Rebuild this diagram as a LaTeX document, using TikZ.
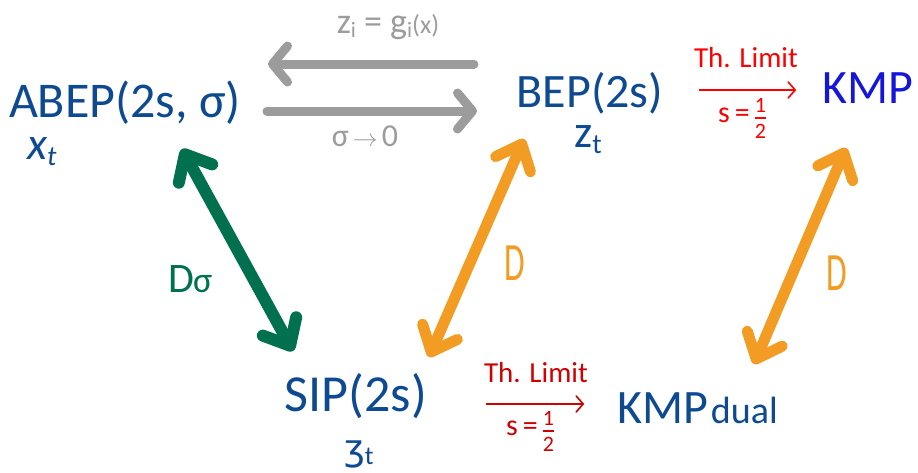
\documentclass[tikz,border=0pt]{standalone}
\usepackage{fontspec}
\setmainfont{Carlito}
\newfontfamily\dejavu{DejaVu Sans}
\usetikzlibrary{arrows.meta}
\definecolor{dblue}{HTML}{0E4A92}
\definecolor{kblue}{HTML}{1616DA}
\definecolor{agrey}{HTML}{9C9C9C}
\definecolor{agreen}{HTML}{00704F}
\definecolor{aorange}{HTML}{F39C24}
\definecolor{ared}{HTML}{FF0000}
\definecolor{dred}{HTML}{D10000}
\newcommand{\fs}[1]{\fontsize{#1}{#1}\selectfont}
\newcommand{\lowsub}[2]{\raisebox{-#1}{#2}}
\newcommand{\halffrac}{\raisebox{-16pt}{\fs{22}\shortstack{1\\[2pt]\rule{11pt}{1.6pt}\\[2pt]2}}}
\begin{document}
\begin{tikzpicture}[x=1pt,y=-1pt,
  lbl/.style={inner sep=0pt},
  proc/.style={lbl, anchor=base, text=dblue, font=\fs{50}},
  thick arrow/.style={line cap=round, line join=round,
     {Straight Barb[length=22pt,width=38pt,line cap=round,line join=round]}-{Straight Barb[length=22pt,width=38pt,line cap=round,line join=round]}},
  grey arrow/.style={agrey, line width=9pt, line cap=round, line join=round,
     -{Straight Barb[length=15pt,width=36pt,line cap=round,line join=round]}},
  thin arrow/.style={line width=1.6pt, -{Straight Barb[length=7pt,width=16pt,line cap=round,line join=round]}},
]
\useasboundingbox (0,0) rectangle (918,472);

% main process nodes
\node[proc] (abep) at (125,117) {ABEP(2s, σ)};
\node[lbl, anchor=base west, text=dblue, font=\fs{46}\itshape] (xt) at (27,159) {x\lowsub{6pt}{\fs{28}t}};
\node[proc, font=\fs{48}] (bep) at (590,107) {BEP(2s)};
\node[lbl, anchor=base west, text=dblue, font=\fs{46}] (zt) at (574,147) {z\lowsub{6pt}{\fs{28}t}};
\node[proc, text=kblue, font=\fs{48}] (kmp) at (868,103) {KMP};
\node[proc, font=\fs{52}] (sip) at (356,411) {SIP(2s)};
\node[lbl, anchor=base west, text=dblue, font=\fs{36}\dejavu] (gt) at (344,460) {ʒ\lowsub{4pt}{\fs{26}\rmfamily t}};
\node[lbl, anchor=base west, text=dblue, font=\fs{48}] (kmpd) at (617,423) {KMP\kern3pt{\fs{38}dual}};

% grey arrows between ABEP and BEP
\coordinate (g1s) at (474,64);
\coordinate (g1e) at (268,64);
\coordinate (g2s) at (267,111);
\coordinate (g2e) at (477,111);
\draw[grey arrow] (g1s) -- (g1e);
\draw[grey arrow] (g2s) -- (g2e);
\node[lbl, anchor=base, text=agrey, font=\fs{36}] (glab1) at (388,33) {z\lowsub{4pt}{\fs{22}i} = g\lowsub{4pt}{\fs{22}i}\fs{26}(x)};
\node[lbl, anchor=base, text=agrey, font=\fs{32}] (glab2) at (365,146) {σ$\,\rightarrow\,$0};

% thermodynamic limit arrows
\coordinate (r1s) at (699,90);
\coordinate (r1e) at (796,90);
\draw[thin arrow, ared] (r1s) -- (r1e);
\node[lbl, anchor=base, text=ared, font=\fs{29}] (th1) at (746,67) {Th. Limit};
\node[lbl, anchor=base, text=ared, font=\fs{30}] (s1) at (742,122) {s\,=\,\halffrac};

\coordinate (r2s) at (486,404);
\coordinate (r2e) at (584,404);
\draw[thin arrow, dred] (r2s) -- (r2e);
\node[lbl, anchor=base, text=dred, font=\fs{29}] (th2) at (536,382) {Th. Limit};
\node[lbl, anchor=base, text=dred, font=\fs{30}] (s2) at (530,435) {s\,=\,\halffrac};

% duality arrows
\coordinate (d1a) at (182,149);
\coordinate (d1b) at (293,351);
\draw[thick arrow, agreen, line width=12pt] (d1a) -- (d1b);
\node[lbl, anchor=base west, text=agreen, font=\fs{42}] (dsig) at (168,292) {D\kern-1pt{\fs{36}σ}};

\coordinate (d2a) at (524,139);
\coordinate (d2b) at (429,357);
\draw[thick arrow, aorange, line width=11pt] (d2a) -- (d2b);
\node[lbl, anchor=base west, text=aorange, font=\fs{54}] (dlab1) at (504,280) {\scalebox{0.62}[1]{D}};

\coordinate (d3a) at (846,148);
\coordinate (d3b) at (754,364);
\draw[thick arrow, aorange, line width=11pt] (d3a) -- (d3b);
\node[lbl, anchor=base west, text=aorange, font=\fs{54}] (dlab2) at (826,290) {\scalebox{0.62}[1]{D}};
\end{tikzpicture}
\end{document}
